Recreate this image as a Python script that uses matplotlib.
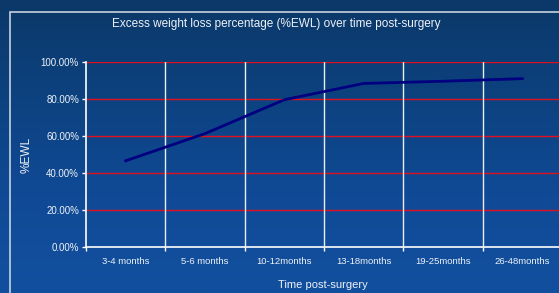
import matplotlib.pyplot as plt
import numpy as np
from matplotlib.patches import Rectangle
from matplotlib.ticker import FixedLocator
from matplotlib.colors import LinearSegmentedColormap

plt.rcParams['font.family'] = ['Liberation Sans', 'DejaVu Sans']

periods = ["3-4 months", "5-6 months", "10-12months", "13-18months", "19-25months", "26-48months"]
ewl = [46.6, 61.3, 79.6, 88.4, 89.6, 91.0]
yticks = [0, 20, 40, 60, 80, 100]

fig = plt.figure(figsize=(5.59, 2.93), dpi=100)

# dark blue gradient background
bg = fig.add_axes([0, 0, 1, 1], zorder=-10)
grad = np.linspace(0, 1, 256).reshape(-1, 1)
cmap = LinearSegmentedColormap.from_list("bg", ["#0b3868", "#0d4280", "#104a96", "#12509f"])
bg.imshow(grad, aspect="auto", cmap=cmap, extent=[0, 1, 0, 1], origin="upper")
bg.axis("off")

# chart area border (runs past the right/bottom edge)
fig.patches.append(Rectangle((9.5 / 559, -0.1), 1.2, (293 - 11.5) / 293 + 0.1,
                             transform=fig.transFigure, fill=False,
                             edgecolor="#c8d2de", linewidth=1.2))

ax = fig.add_axes([86 / 559, 46 / 293, 476 / 559, 185 / 293])
ax.patch.set_alpha(0)

x = np.arange(len(periods))
ax.plot(x, ewl, color="#000080", linewidth=2.0, zorder=3)

ax.set_xlim(-0.5, len(periods) - 0.5)
ax.set_ylim(0, 100)

ax.set_yticks(yticks)
ax.set_yticklabels([f"{v:.2f}%" for v in yticks])
ax.set_xticks(x)
ax.set_xticklabels(periods)
ax.xaxis.set_minor_locator(FixedLocator(np.arange(-0.5, len(periods), 1.0)))

for v in yticks[1:]:
    ax.axhline(v, color="#e0101e", linewidth=1.0, zorder=1)
for b in np.arange(0.5, len(periods), 1.0):
    ax.axvline(b, color="#e8eef5", linewidth=1.0, zorder=1)

for s in ["top", "right"]:
    ax.spines[s].set_visible(False)
for s in ["left", "bottom"]:
    ax.spines[s].set_color("white")
    ax.spines[s].set_linewidth(1.2)

ax.tick_params(axis="y", colors="white", labelsize=7.0, length=3, width=1, pad=2)
ax.tick_params(axis="x", which="major", colors="white", labelsize=6.8, length=0, pad=7)
ax.tick_params(axis="x", which="minor", colors="white", length=3, width=1)
for t in ax.get_xticklabels() + ax.get_yticklabels():
    t.set_color("#eef2f7")

ax.set_ylabel("%EWL", color="#eef2f7", fontsize=8.6)
ax.set_xlabel("Time post-surgery", color="#eef2f7", fontsize=8.0)
ax.xaxis.set_label_coords((323 - 86) / 476, -(280 - 247) / 185)
ax.yaxis.set_label_coords(-(86 - 33) / 476, (247 - 155) / 185)

fig.text(276 / 559, 1 - 24 / 293, "Excess weight loss percentage (%EWL) over time post-surgery",
         color="#eef2f7", fontsize=8.5, ha="center", va="center")

fig.savefig("out.png", dpi=100)
